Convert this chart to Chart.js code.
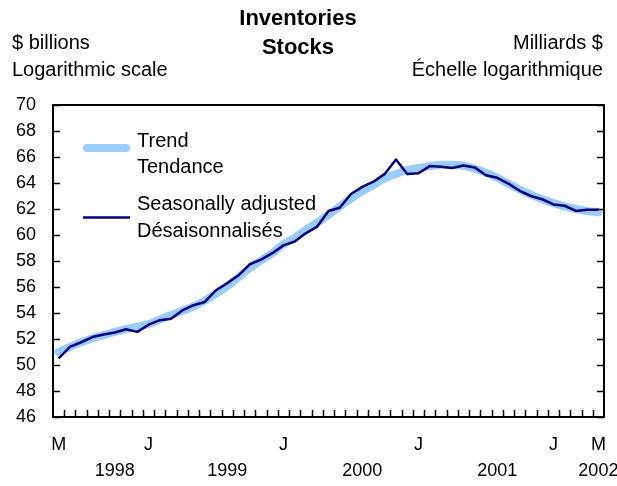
<!DOCTYPE html>
<html>
<head>
<meta charset="utf-8">
<script src="https://cdn.jsdelivr.net/npm/chart.js@4.4.1/dist/chart.umd.min.js"></script>
<style>
html,body{margin:0;padding:0;background:#fff;}
#wrap{position:relative;width:617px;height:486px;overflow:hidden;}
#c{position:absolute;left:0;top:0;}
.t{position:absolute;font-family:"Liberation Sans",Arial,sans-serif;color:#000;white-space:nowrap;line-height:26px;font-size:20px;}
</style>
</head>
<body>
<div id="wrap">
<canvas id="c" width="617" height="486"></canvas>
<div class="t" style="left:0;width:596px;text-align:center;top:5px;font-weight:bold;font-size:22px;">Inventories</div>
<div class="t" style="left:0;width:596px;text-align:center;top:34px;font-weight:bold;font-size:22px;">Stocks</div>
<div class="t" style="left:12px;top:29px;">$ billions</div>
<div class="t" style="left:12px;top:56px;">Logarithmic scale</div>
<div class="t" style="right:14px;top:29px;text-align:right;">Milliards $</div>
<div class="t" style="right:14px;top:56px;text-align:right;">Échelle logarithmique</div>
</div>
<script>
// ---- data (monthly, May 1998 – May 2002) ----
const months = [
  'May 1998','Jun 1998','Jul 1998','Aug 1998','Sep 1998','Oct 1998','Nov 1998','Dec 1998',
  'Jan 1999','Feb 1999','Mar 1999','Apr 1999','May 1999','Jun 1999','Jul 1999','Aug 1999','Sep 1999','Oct 1999','Nov 1999','Dec 1999',
  'Jan 2000','Feb 2000','Mar 2000','Apr 2000','May 2000','Jun 2000','Jul 2000','Aug 2000','Sep 2000','Oct 2000','Nov 2000','Dec 2000',
  'Jan 2001','Feb 2001','Mar 2001','Apr 2001','May 2001','Jun 2001','Jul 2001','Aug 2001','Sep 2001','Oct 2001','Nov 2001','Dec 2001',
  'Jan 2002','Feb 2002','Mar 2002','Apr 2002','May 2002'
];
const trend = [
  51.0, 51.4, 51.75, 52.05, 52.3, 52.55, 52.75, 52.95,
  53.15, 53.5, 53.85, 54.15, 54.5, 54.95, 55.5, 56.05, 56.75, 57.45, 58.05, 58.6,
  59.3, 59.8, 60.4, 60.95, 61.55, 62.2, 62.8, 63.35, 63.85, 64.35, 64.7, 65.0,
  65.15, 65.3, 65.4, 65.4, 65.33, 65.1, 64.8, 64.4, 63.95, 63.5, 63.1, 62.75,
  62.45, 62.2, 62.0, 61.85, 61.75
];
const seasonallyAdjusted = [
  50.5, 51.4, 51.75, 52.15, 52.35, 52.5, 52.75, 52.55,
  53.1, 53.45, 53.55, 54.2, 54.6, 54.85, 55.75, 56.3, 56.9, 57.75, 58.1, 58.6,
  59.2, 59.5, 60.15, 60.65, 61.85, 62.1, 63.15, 63.7, 64.1, 64.7, 65.8, 64.7,
  64.75, 65.3, 65.25, 65.15, 65.35, 65.2, 64.6, 64.4, 63.95, 63.4, 63.0, 62.75,
  62.35, 62.25, 61.85, 61.95, 61.95
];
const monthTickIndex = [0, 8, 20, 32, 44, 48];
const monthTickText  = ['M', 'J', 'J', 'J', 'J', 'M'];
const yearTickIndex  = [5, 15, 27, 39, 48];
const yearTickText   = ['1998', '1999', '2000', '2001', '2002'];
const yMin = 46, yMax = 70, yStep = 2;
const legendLines = [['Trend', 'Tendance'], ['Seasonally adjusted', 'Désaisonnalisés']];

const FONT = '"Liberation Sans", Arial, sans-serif';
const TREND_COLOR = '#99ccff';
const SA_COLOR = '#000080';

const frameTicksLegend = {
  id: 'frameTicksLegend',
  afterDatasetsDraw(chart) {
    const {ctx, chartArea: a, scales: {x, y}} = chart;
    ctx.save();
    // inner tick marks
    ctx.strokeStyle = '#000';
    ctx.lineWidth = 1.5;
    ctx.beginPath();
    y.ticks.forEach(t => {
      const py = Math.round(y.getPixelForValue(t.value)) + 0.5;
      ctx.moveTo(a.left, py); ctx.lineTo(a.left + 7, py);
      ctx.moveTo(a.right, py); ctx.lineTo(a.right - 7, py);
    });
    for (let i = 0; i < months.length - 1; i++) {
      const px = Math.round((x.getPixelForValue(i) + x.getPixelForValue(i + 1)) / 2) + 0.5;
      ctx.moveTo(px, a.bottom); ctx.lineTo(px, a.bottom - 7);
    }
    ctx.stroke();
    // frame
    ctx.lineWidth = 2;
    ctx.strokeRect(a.left, a.top, a.right - a.left, a.bottom - a.top);
    // legend
    const dsOrder = [1, 0];
    const symY = [a.top + 43, a.top + 112.5];
    const txtY = [[a.top + 36.5, a.top + 62], [a.top + 99, a.top + 126.5]];
    dsOrder.forEach((di, k) => {
      const ds = chart.data.datasets[di];
      ctx.strokeStyle = ds.borderColor;
      ctx.lineWidth = ds.borderWidth;
      ctx.lineCap = ds.borderCapStyle || 'butt';
      ctx.beginPath();
      const inset = ctx.lineCap === 'round' ? ds.borderWidth / 2 : 0;
      ctx.moveTo(a.left + 30 + inset, symY[k]);
      ctx.lineTo(a.left + 77 - inset, symY[k]);
      ctx.stroke();
      ctx.fillStyle = '#000';
      ctx.font = '20px ' + FONT;
      ctx.textBaseline = 'middle';
      ctx.textAlign = 'left';
      legendLines[k].forEach((s, j) => ctx.fillText(s, a.left + 84, txtY[k][j]));
    });
    ctx.restore();
  }
};

new Chart(document.getElementById('c'), {
  type: 'line',
  data: {
    labels: months,
    datasets: [
      {
        label: 'Seasonally adjusted / Désaisonnalisés',
        data: seasonallyAdjusted,
        borderColor: SA_COLOR,
        borderWidth: 2.5,
        borderJoinStyle: 'round',
        pointRadius: 0,
        tension: 0,
        order: 0
      },
      {
        label: 'Trend / Tendance',
        data: trend,
        borderColor: TREND_COLOR,
        borderWidth: 8,
        borderCapStyle: 'round',
        borderJoinStyle: 'round',
        pointRadius: 0,
        cubicInterpolationMode: 'monotone',
        order: 1
      }
    ]
  },
  options: {
    responsive: false,
    animation: false,
    devicePixelRatio: 1,
    layout: {padding: {left: 0, right: 13, top: 105, bottom: 0}},
    plugins: {legend: {display: false}, tooltip: {enabled: false}, title: {display: false}},
    scales: {
      x: {
        type: 'category',
        offset: true,
        grid: {display: false, drawTicks: false},
        border: {display: false},
        ticks: {
          autoSkip: false, maxRotation: 0, minRotation: 0, padding: 15, color: '#000',
          font: {family: FONT, size: 18, lineHeight: '26px'},
          callback: (v, i) => {
            const mi = monthTickIndex.indexOf(i);
            const yi = yearTickIndex.indexOf(i);
            if (mi < 0 && yi < 0) return '';
            return [mi >= 0 ? monthTickText[mi] : '', yi >= 0 ? yearTickText[yi] : ''];
          }
        },
        afterFit: s => { s.height = 69; s.paddingLeft = 0; s.paddingRight = 0; }
      },
      y: {
        type: 'linear',
        min: yMin, max: yMax,
        grid: {display: false, drawTicks: false},
        border: {display: false},
        ticks: {stepSize: yStep, padding: 17, color: '#000', font: {family: FONT, size: 18}},
        afterFit: s => { s.width = 53; s.paddingTop = 0; s.paddingBottom = 0; }
      }
    }
  },
  plugins: [frameTicksLegend]
});
</script>
</body>
</html>
